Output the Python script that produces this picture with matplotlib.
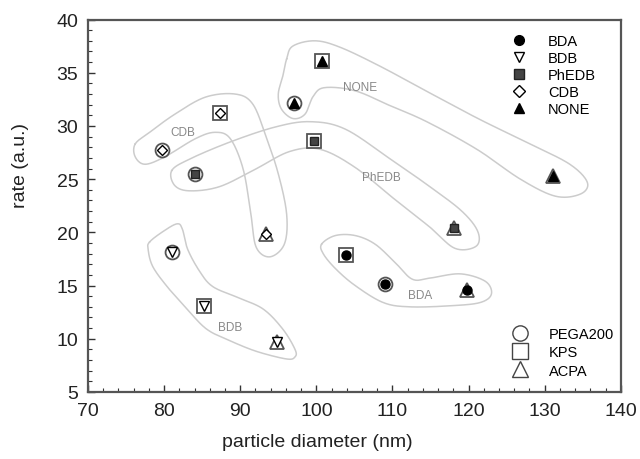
import numpy as np
import matplotlib
matplotlib.use("Agg")
import matplotlib.pyplot as plt
from matplotlib.lines import Line2D

plt.rcParams['font.family'] = ['Liberation Sans', 'DejaVu Sans']

# surfactant groups and initiators
surfactants = ['BDA', 'BDB', 'PhEDB', 'CDB', 'NONE']
initiators = ['PEGA200', 'KPS', 'ACPA']

# particle diameter (nm) per surfactant, order: PEGA200, KPS, ACPA
diam_BDA = [109.0, 103.9, 119.8]
diam_BDB = [81.1, 85.2, 94.8]
diam_PhEDB = [84.1, 99.7, 118.1]
diam_CDB = [79.7, 87.4, 93.4]
diam_NONE = [97.1, 100.7, 131.1]

# rate (a.u.)
rate_BDA = [15.1, 17.9, 14.6]
rate_BDB = [18.2, 13.1, 9.7]
rate_PhEDB = [25.5, 28.6, 20.4]
rate_CDB = [27.7, 31.2, 19.8]
rate_NONE = [32.2, 36.1, 25.3]

diams = [diam_BDA, diam_BDB, diam_PhEDB, diam_CDB, diam_NONE]
rates = [rate_BDA, rate_BDB, rate_PhEDB, rate_CDB, rate_NONE]

# marker styles
inner_style = {
    'BDA': dict(marker='o', mfc='black', mec='black', ms=6.5),
    'BDB': dict(marker='v', mfc='white', mec='black', ms=6.5),
    'PhEDB': dict(marker='s', mfc='#444444', mec='#222222', ms=6),
    'CDB': dict(marker='D', mfc='white', mec='black', ms=5.5),
    'NONE': dict(marker='^', mfc='black', mec='black', ms=6.5),
}
outer_marker = {'PEGA200': 'o', 'KPS': 's', 'ACPA': '^'}

# hand-traced group outlines (data coords)
outline_CDB = [(76.2, 28.3), (78.1, 29.4), (81.4, 31.1), (85.4, 32.7), (89.3, 33.0),
               (91.6, 32.1), (93.3, 29.2), (95.0, 25.5), (96.1, 21.7), (95.8, 18.9),
               (93.9, 17.7), (92.1, 18.6), (91.4, 21.7), (90.4, 25.9), (88.7, 28.8),
               (86.7, 29.4), (84.1, 28.8), (80.1, 27.1), (77.5, 26.4), (76.2, 27.1)]
outline_PhEDB = [(81.0, 25.8), (83.4, 26.9), (88.7, 28.5), (94.6, 29.9), (99.2, 30.4),
                 (103.8, 29.7), (109.7, 26.9), (114.9, 24.3), (119.1, 22.0), (121.2, 20.1),
                 (121.0, 18.7), (118.2, 18.5), (114.9, 20.5), (110.3, 23.1), (105.1, 26.1),
                 (100.5, 27.8), (96.5, 27.6), (91.9, 25.9), (87.3, 24.3), (83.4, 23.9),
                 (81.4, 24.4)]
outline_NONE = [(96.1, 36.3), (96.9, 37.5), (99.8, 38.0), (103.1, 37.4), (108.4, 35.6),
                (114.9, 33.1), (121.5, 30.6), (128.1, 28.3), (133.3, 26.4), (135.6, 24.7),
                (134.7, 23.6), (131.4, 23.4), (126.8, 25.0), (121.1, 27.8), (114.5, 30.4),
                (109.7, 31.9), (105.1, 33.3), (101.1, 33.6), (99.6, 32.8), (98.5, 31.1),
                (96.9, 30.7), (95.4, 31.6), (95.0, 33.0), (95.6, 34.7)]
outline_BDB = [(78.1, 19.1), (79.9, 20.1), (81.7, 20.8), (82.4, 20.3), (83.1, 18.4),
               (84.7, 16.3), (86.4, 14.9), (89.6, 13.9), (93.0, 12.8), (95.6, 10.9),
               (97.2, 9.0), (97.2, 8.3), (96.1, 8.1), (92.2, 8.8), (88.7, 9.8),
               (85.6, 10.9), (83.0, 12.8), (80.4, 14.9), (78.5, 16.8), (77.9, 18.4)]
outline_BDA = [(100.7, 18.9), (102.5, 19.7), (105.1, 19.7), (107.7, 18.9), (110.3, 17.2),
               (112.6, 15.6), (114.9, 15.7), (118.9, 16.1), (122.2, 15.4), (123.0, 14.2),
               (121.5, 13.4), (117.6, 13.1), (112.3, 13.0), (108.8, 13.4), (105.1, 15.0),
               (102.5, 16.6), (100.9, 18.0)]
outlines = [outline_BDA, outline_BDB, outline_PhEDB, outline_CDB, outline_NONE]
label_pos = [(113.6, 14.1), (88.7, 11.1), (108.6, 25.2), (82.4, 29.4), (105.7, 33.7)]


def smooth_closed(pts, n=20):
    # closed Catmull-Rom spline through the outline points
    p = np.asarray(pts, float)
    out = []
    m = len(p)
    for i in range(m):
        p0, p1, p2, p3 = p[i - 1], p[i], p[(i + 1) % m], p[(i + 2) % m]
        t = np.linspace(0, 1, n, endpoint=False)[:, None]
        seg = 0.5 * ((2 * p1) + (-p0 + p2) * t + (2 * p0 - 5 * p1 + 4 * p2 - p3) * t ** 2
                     + (-p0 + 3 * p1 - 3 * p2 + p3) * t ** 3)
        out.append(seg)
    out = np.vstack(out)
    return np.vstack([out, out[:1]])


fig = plt.figure(figsize=(6.4, 4.6), dpi=100)
ax = fig.add_axes([0.1375, 0.1457, 0.8325, 0.8097])

for s, outl, lp in zip(surfactants, outlines, label_pos):
    c = smooth_closed(outl)
    ax.plot(c[:, 0], c[:, 1], color='#cccccc', lw=1.1, zorder=1)
    ax.text(lp[0], lp[1], s, color='#888888', fontsize=8.5, ha='center', va='center', zorder=2)

for s, d, r in zip(surfactants, diams, rates):
    for k, ini in enumerate(initiators):
        ax.plot(d[k], r[k], linestyle='none', marker=outer_marker[ini], ms=10,
                mfc='white', mec='#555555', mew=1.3, zorder=3)
        ax.plot(d[k], r[k], linestyle='none', zorder=4, **inner_style[s])

ax.set_xlim(70, 140)
ax.set_ylim(5, 40)
ax.set_xticks(np.arange(70, 141, 10))
ax.set_yticks(np.arange(5, 41, 5))
ax.set_xticks(np.arange(70, 141, 2), minor=True)
ax.set_yticks(np.arange(5, 41, 1), minor=True)
ax.tick_params(which='both', direction='in', colors='#333333', labelsize=14, labelcolor='#222222')
ax.tick_params(which='major', length=5, width=1)
ax.tick_params(which='minor', length=2.8, width=0.8)
ax.tick_params(axis='x', pad=7)
ax.tick_params(axis='y', pad=7)
for sp in ax.spines.values():
    sp.set_color('#555555')
    sp.set_linewidth(1.6)
ax.set_xlabel('particle diameter (nm)', fontsize=14, color='#222222')
ax.set_ylabel('rate (a.u.)', fontsize=14, color='#222222')
ax.xaxis.set_label_coords(0.43, -0.11)
ax.yaxis.set_label_coords(-0.11, 0.61)

h1 = [Line2D([], [], linestyle='none', **{**inner_style[s], 'ms': inner_style[s]['ms'] + 0.5})
      for s in surfactants]
leg1 = ax.legend(h1, surfactants, loc='upper left', bbox_to_anchor=(0.795, 0.96),
                 frameon=False, fontsize=10.5, handlelength=1.0, handletextpad=1.5,
                 labelspacing=0.2, borderpad=0, borderaxespad=0)
ax.add_artist(leg1)
h2 = [Line2D([], [], linestyle='none', marker=outer_marker[i], ms=11, mfc='white',
             mec='#444444', mew=1.0) for i in initiators]
ax.legend(h2, initiators, loc='upper left', bbox_to_anchor=(0.797, 0.175),
          frameon=False, fontsize=10.5, handlelength=1.0, handletextpad=1.5,
          labelspacing=0.3, borderpad=0, borderaxespad=0)

fig.savefig('out.png', dpi=100)
